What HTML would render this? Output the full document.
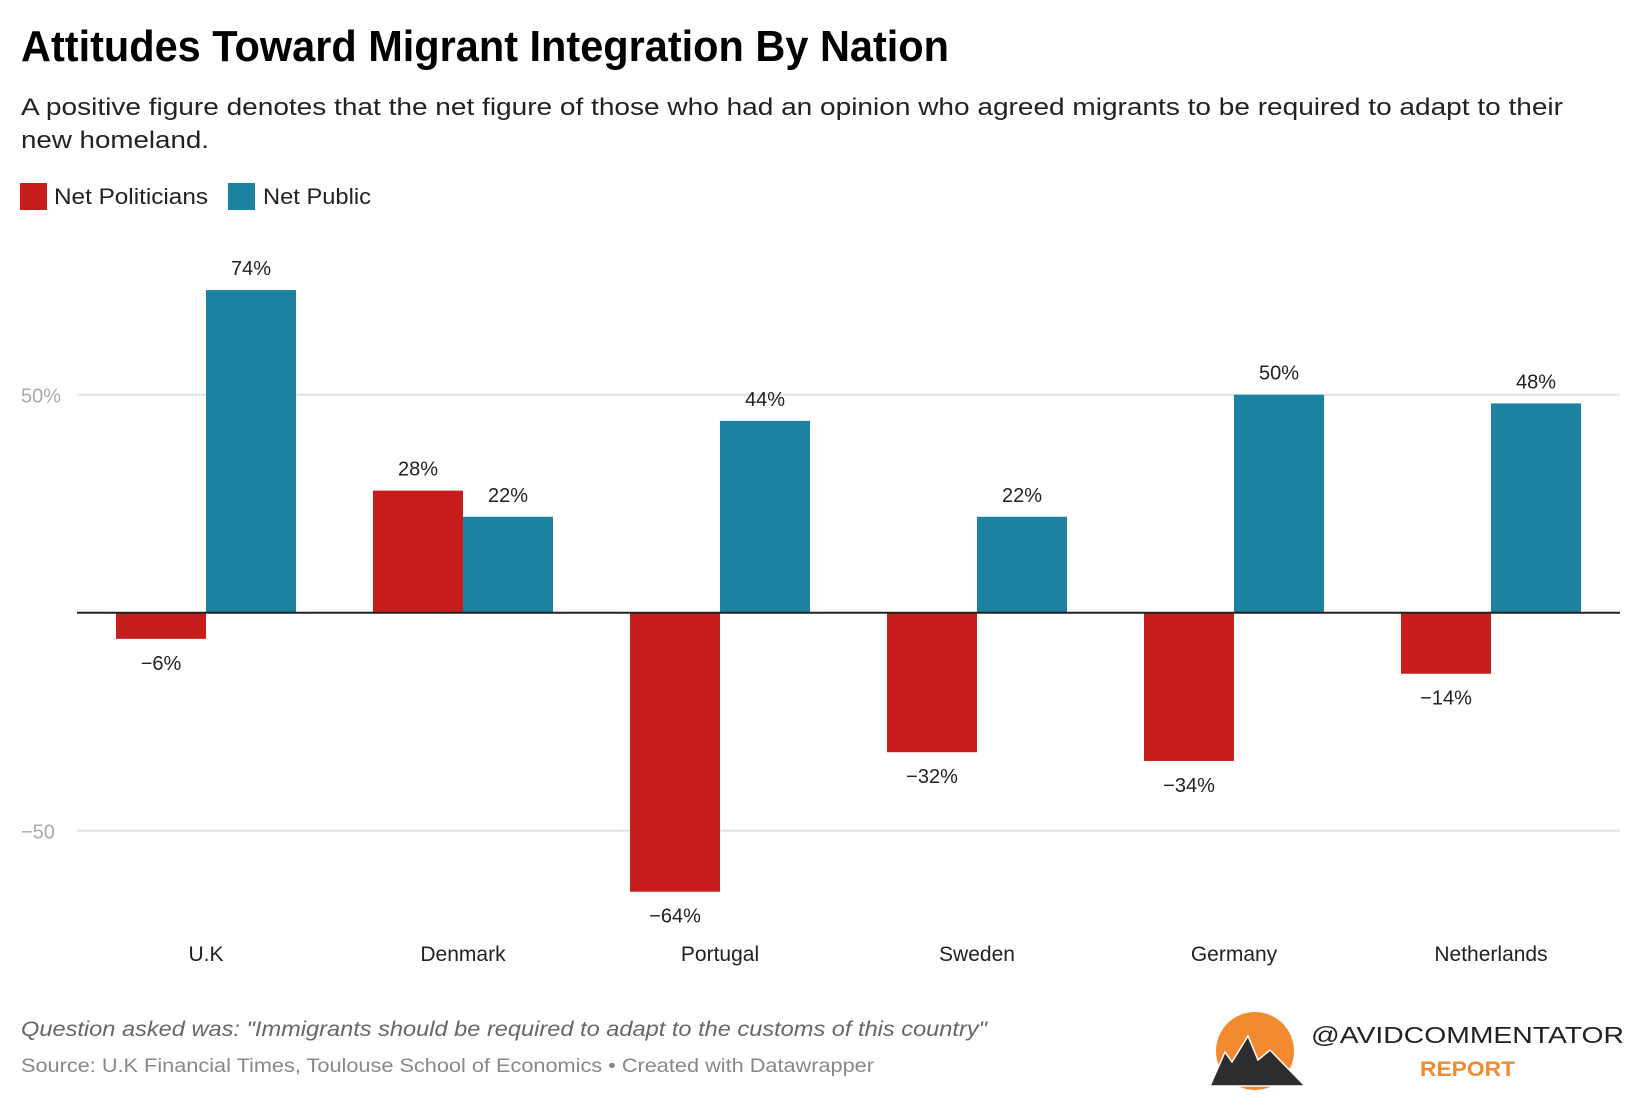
<!DOCTYPE html>
<html><head><meta charset="utf-8"><style>
html,body{margin:0;padding:0;background:#fff;}
svg{display:block;font-family:"Liberation Sans",sans-serif;}
</style></head><body>
<svg id="chart" width="1640" height="1098" viewBox="0 0 1640 1098">
<text x="21" y="61" font-size="44" font-weight="bold" fill="#000" textLength="928" lengthAdjust="spacingAndGlyphs">Attitudes Toward Migrant Integration By Nation</text>
<text x="21" y="115" font-size="24" fill="#222" textLength="1542" lengthAdjust="spacingAndGlyphs">A positive figure denotes that the net figure of those who had an opinion who agreed migrants to be required to adapt to their</text>
<text x="21" y="148" font-size="24" fill="#222" textLength="188" lengthAdjust="spacingAndGlyphs">new homeland.</text>
<g>
<rect x="20" y="183" width="27" height="27" fill="#c71e1d"/>
<text x="54" y="204" font-size="22" fill="#222" textLength="154" lengthAdjust="spacingAndGlyphs">Net Politicians</text>
<rect x="228" y="183" width="27" height="27" fill="#1d81a2"/>
<text x="263" y="204" font-size="22" fill="#222" textLength="108" lengthAdjust="spacingAndGlyphs">Net Public</text>
</g>
<g id="grid"></g>
<g id="bars"></g>
<g id="labels"></g>
<text x="21" y="1036" font-size="21" font-style="italic" fill="#666" textLength="966" lengthAdjust="spacingAndGlyphs">Question asked was: "Immigrants should be required to adapt to the customs of this country"</text>
<text x="21" y="1072" font-size="19" fill="#888" textLength="853" lengthAdjust="spacingAndGlyphs">Source: U.K Financial Times, Toulouse School of Economics • Created with Datawrapper</text>
<g>
<circle cx="1255" cy="1051" r="39" fill="#f28a30"/>
<polygon points="1210,1086 1225,1052 1232,1062 1248,1036 1258,1060 1270,1050 1305,1086" fill="#2d2d2d" stroke="#fff" stroke-width="1.5"/>
<text x="1311" y="1043" font-size="23" fill="#222" textLength="313" lengthAdjust="spacingAndGlyphs">@AVIDCOMMENTATOR</text>
<text x="1420" y="1076" font-size="21" font-weight="bold" fill="#f28a30" textLength="95" lengthAdjust="spacingAndGlyphs">REPORT</text>
</g>
</svg>
<script>
const countries = ["U.K","Denmark","Portugal","Sweden","Germany","Netherlands"];
const politicians = [-6, 28, -64, -32, -34, -14];
const publicVals = [74, 22, 44, 22, 50, 48];
const yTicks = [50, -50];
const yTickLabels = ["50%", "−50"];

const NS = "http://www.w3.org/2000/svg";
const zeroY = 612.7, pxPer = 4.36;
const y = v => zeroY - v * pxPer;
const firstCenter = 206, pitch = 257, barW = 90;
const xc = i => firstCenter + i * pitch;
function mk(tag, attrs, parent){const e=document.createElementNS(NS,tag);for(const k in attrs)e.setAttribute(k,attrs[k]);parent.appendChild(e);return e;}
const grid=document.getElementById('grid'), bars=document.getElementById('bars'), labels=document.getElementById('labels');
yTicks.forEach((t,i)=>{
  const l=mk('line',{x1:77,x2:1620,y1:y(t),y2:y(t),stroke:'#e3e3e3','stroke-width':2},grid);
  
  
  const tx=mk('text',{x:21,y:y(t)+8,'font-size':20,fill:'#aaa'},grid);
  tx.textContent=yTickLabels[i];
  
  
});
function fmt(v){return (v<0?'−'+Math.abs(v):v)+'%';}
function drawBar(v,x0,color,name){
  const top=Math.min(y(v),zeroY), h=Math.abs(y(v)-zeroY);
  const r=mk('rect',{x:x0,y:top,width:barW,height:h,fill:color},bars);
  
  
  const t=mk('text',{x:x0+barW/2,y:v>=0?y(v)-15:y(v)+31,'font-size':20,fill:'#222','text-anchor':'middle'},labels);
  t.textContent=fmt(v);
  
  
}
countries.forEach((c,i)=>{
  drawBar(politicians[i],xc(i)-barW,'#c71e1d','bar-politicians');
  drawBar(publicVals[i],xc(i),'#1d81a2','bar-public');
  const t=mk('text',{x:xc(i),y:961,'font-size':21,fill:'#222','text-anchor':'middle'},labels);
  t.textContent=c;
  
  
});
const z=mk('line',{x1:77,x2:1620,y1:zeroY,y2:zeroY,stroke:'#222','stroke-width':2},labels);


</script>
</body></html>
